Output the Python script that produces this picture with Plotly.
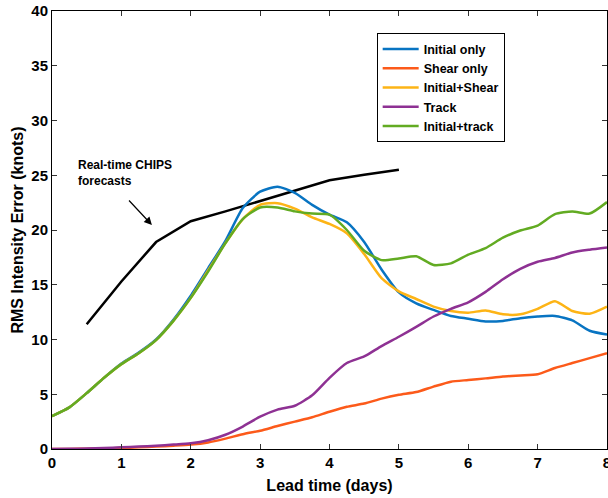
import plotly.graph_objects as go

# Lead time grid (days) shared by the model curves
lead_days = [i * 0.25 for i in range(33)]

initial_only = [3.0, 3.8, 5.1, 6.5, 7.8, 8.8, 10.0, 11.8, 14.0, 16.5, 19.0, 22.0,
                23.5, 23.95, 23.4, 22.3, 21.4, 20.7, 18.9, 16.4, 14.3, 13.3, 12.7,
                12.15, 11.9, 11.65, 11.7, 11.95, 12.1, 12.15, 11.75, 10.8, 10.45]

shear_only = [0.0, 0.01, 0.03, 0.06, 0.1, 0.15, 0.22, 0.3, 0.4, 0.6, 0.95, 1.35,
              1.67, 2.1, 2.5, 2.9, 3.4, 3.85, 4.15, 4.6, 4.95, 5.2, 5.7, 6.15,
              6.3, 6.45, 6.62, 6.72, 6.82, 7.4, 7.85, 8.3, 8.75]

initial_shear = [3.0, 3.8, 5.1, 6.5, 7.75, 8.75, 9.95, 11.7, 13.8, 16.3, 18.8, 21.0,
                 22.3, 22.45, 21.95, 21.15, 20.55, 19.7, 17.8, 15.6, 14.4, 13.7, 13.0,
                 12.6, 12.45, 12.65, 12.3, 12.3, 12.8, 13.5, 12.6, 12.35, 13.0]

track = [0.0, 0.02, 0.05, 0.1, 0.15, 0.22, 0.3, 0.4, 0.52, 0.8, 1.3, 2.05,
         2.95, 3.6, 3.95, 4.9, 6.5, 7.85, 8.45, 9.4, 10.25, 11.15, 12.1, 12.8,
         13.4, 14.35, 15.5, 16.45, 17.1, 17.45, 17.95, 18.2, 18.4]

initial_track = [3.0, 3.8, 5.1, 6.5, 7.75, 8.75, 9.95, 11.7, 13.8, 16.2, 18.8, 21.0,
                 22.05, 22.05, 21.7, 21.5, 21.4, 20.0, 18.1, 17.25, 17.4, 17.6, 16.8,
                 16.95, 17.75, 18.35, 19.3, 19.95, 20.4, 21.45, 21.7, 21.5, 22.55]

# Operational CHIPS forecasts (12-hourly)
chips_days = [0.5, 1.0, 1.5, 2.0, 2.5, 3.0, 3.5, 4.0, 4.5, 5.0]
chips_error = [11.4, 15.3, 18.9, 20.8, 21.7, 22.65, 23.6, 24.55, 25.05, 25.5]

series_names = ["Initial only", "Shear only", "Initial+Shear", "Track", "Initial+track"]
series_values = [initial_only, shear_only, initial_shear, track, initial_track]
series_colors = ["#0874C2", "#FC5A1A", "#FDB416", "#8E3193", "#62AB22"]

x_ticks = [0, 1, 2, 3, 4, 5, 6, 7, 8]
y_ticks = [0, 5, 10, 15, 20, 25, 30, 35, 40]

FONT = "Liberation Sans, Arial, sans-serif"

fig = go.Figure()

fig.add_trace(go.Scatter(
    x=chips_days, y=chips_error, mode="lines",
    line=dict(color="black", width=2.5),
    showlegend=False,
))

for name, vals, col in zip(series_names, series_values, series_colors):
    fig.add_trace(go.Scatter(
        x=lead_days, y=vals, mode="lines", name=name,
        line=dict(color=col, width=2.5, shape="spline", smoothing=0.6),
    ))

axis_common = dict(
    showline=True, linecolor="black", linewidth=1, mirror="allticks",
    ticks="inside", ticklen=5, tickwidth=1, tickcolor="#333333",
    showgrid=False, zeroline=False, ticklabeloverflow="allow",
    automargin=False,
    tickfont=dict(family=FONT, size=15, color="black", weight="bold"),
)

fig.update_xaxes(
    range=[0, 8], tickvals=x_ticks,
    title=dict(text="Lead time (days)", standoff=9,
               font=dict(family=FONT, size=16, color="black", weight="bold")),
    **axis_common,
)
fig.update_yaxes(
    range=[0, 40], tickvals=y_ticks,
    title=dict(text="RMS Intensity Error (knots)", standoff=3,
               font=dict(family=FONT, size=16, color="black", weight="bold")),
    **axis_common,
)

# Label and arrow pointing at the CHIPS curve
fig.add_annotation(
    x=0.35, y=25.2, xref="x", yref="y",
    text="Real-time CHIPS<br>forecasts", showarrow=False,
    xanchor="left", yanchor="middle", align="left",
    font=dict(family=FONT, size=12, color="black", weight="bold"),
)
fig.add_annotation(
    x=1.44, y=20.46, ax=1.09, ay=22.83, xref="x", yref="y", axref="x", ayref="y",
    text="", showarrow=True, arrowhead=2, arrowsize=1.3, arrowwidth=1.2,
    arrowcolor="black",
)

fig.update_layout(
    width=608, height=498,
    margin=dict(l=52, r=1, t=11, b=49),
    paper_bgcolor="white", plot_bgcolor="white",
    legend=dict(
        x=0.585, y=0.949, xanchor="left", yanchor="top",
        bordercolor="black", borderwidth=1, bgcolor="white",
        font=dict(family=FONT, size=12.5, color="black", weight="bold"),
        tracegroupgap=0, itemwidth=36,
    ),
)

fig.write_html("out.html")
